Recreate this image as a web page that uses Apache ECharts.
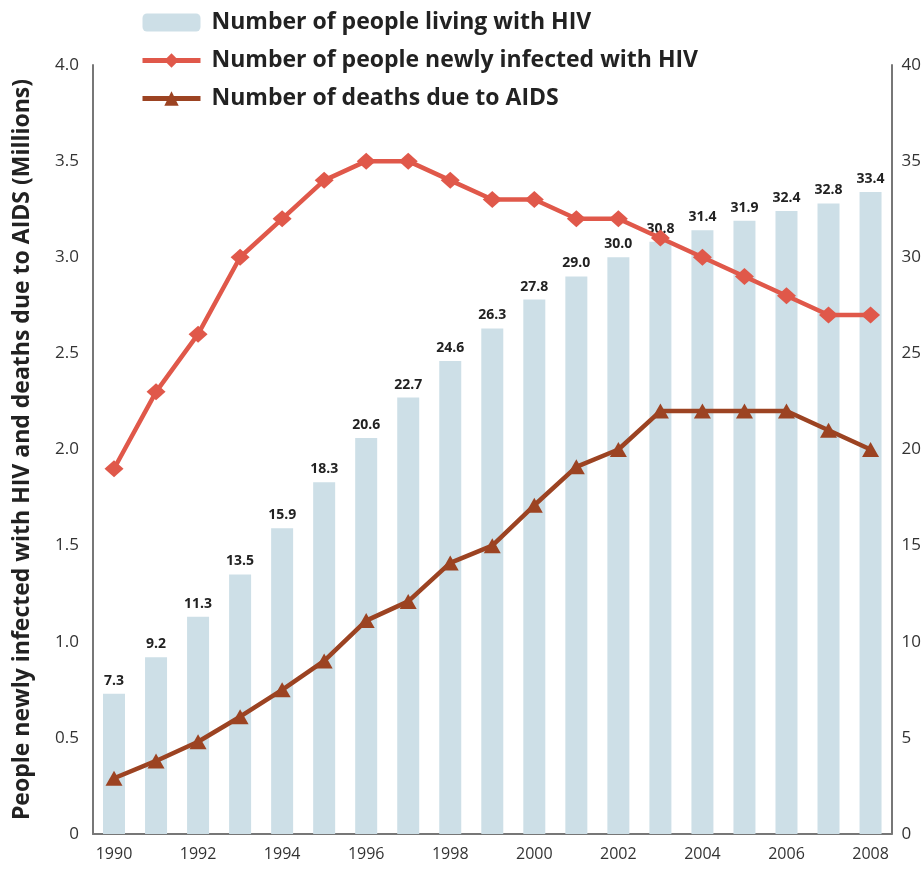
<!DOCTYPE html>
<html>
<head>
<meta charset="utf-8">
<script src="https://cdn.jsdelivr.net/npm/echarts@6/dist/echarts.min.js"></script>
<style>
html, body { margin: 0; padding: 0; background: #fff; }
#chart { width: 924px; height: 879px; }
</style>
</head>
<body>
<div id="chart"></div>
<script>
var years = ['1990','1991','1992','1993','1994','1995','1996','1997','1998','1999',
             '2000','2001','2002','2003','2004','2005','2006','2007','2008'];

// millions, right axis
var livingWithHiv = [7.3, 9.2, 11.3, 13.5, 15.9, 18.3, 20.6, 22.7, 24.6, 26.3,
                     27.8, 29.0, 30.0, 30.8, 31.4, 31.9, 32.4, 32.8, 33.4];

// millions, left axis
var newlyInfected = [1.9, 2.3, 2.6, 3.0, 3.2, 3.4, 3.5, 3.5, 3.4, 3.3,
                     3.3, 3.2, 3.2, 3.1, 3.0, 2.9, 2.8, 2.7, 2.7];

var aidsDeaths = [0.29, 0.38, 0.48, 0.61, 0.75, 0.9, 1.11, 1.21, 1.41, 1.5,
                  1.71, 1.91, 2.0, 2.2, 2.2, 2.2, 2.2, 2.1, 2.0];

var seriesNames = ['Number of people living with HIV',
                   'Number of people newly infected with HIV',
                   'Number of deaths due to AIDS'];

var axisFont = 'Open Sans';
var myChart = echarts.init(document.getElementById('chart'));

var option = {
    backgroundColor: '#fff',
    animation: false,
    legend: {
        orient: 'vertical',
        left: 135,
        top: 6,
        itemWidth: 58,
        itemHeight: 18,
        itemGap: 15,
        data: seriesNames,
        lineStyle: { width: 5 },
        textStyle: {
            fontFamily: axisFont,
            fontWeight: 'bold',
            fontSize: 23,
            color: '#222',
            padding: [0, 0, 0, 6]
        }
    },
    grid: {
        left: 93,
        right: 31,
        top: 65,
        bottom: 45
    },
    xAxis: {
        type: 'category',
        data: years,
        boundaryGap: true,
        axisLine: { lineStyle: { color: '#777', width: 2 } },
        axisTick: { show: false },
        axisLabel: {
            interval: 1,
            margin: 12,
            fontFamily: axisFont,
            fontSize: 16,
            color: '#333'
        }
    },
    yAxis: [
        {
            type: 'value',
            min: 0,
            max: 4,
            interval: 0.5,
            name: 'People newly infected with HIV and deaths due to AIDS (Millions)',
            nameLocation: 'middle',
            nameGap: 59,
            nameTextStyle: {
                fontFamily: axisFont,
                fontWeight: 'bold',
                fontSize: 23,
                color: '#222'
            },
            axisLine: { show: true, lineStyle: { color: '#777', width: 2 } },
            axisTick: { show: false },
            splitLine: { show: false },
            axisLabel: {
                margin: 14,
                fontFamily: axisFont,
                fontSize: 17,
                color: '#333',
                formatter: function(v){ return v === 0 ? '0' : v.toFixed(1); }
            }
        },
        {
            type: 'value',
            min: 0,
            max: 40,
            interval: 5,
            position: 'right',
            axisLine: { show: true, lineStyle: { color: '#777', width: 2 } },
            axisTick: { show: false },
            splitLine: { show: false },
            axisLabel: {
                margin: 10,
                fontFamily: axisFont,
                fontSize: 17,
                color: '#333'
            }
        }
    ],
    series: [
        {
            name: seriesNames[0],
            type: 'bar',
            yAxisIndex: 1,
            barWidth: 22,
            data: livingWithHiv,
            itemStyle: { color: '#cddfe7' },
            label: {
                show: true,
                position: 'top',
                distance: 6,
                fontFamily: axisFont,
                fontWeight: 'bold',
                fontSize: 14,
                color: '#222',
                formatter: function(p){ return p.value.toFixed(1); }
            },
            z: 1
        },
        {
            name: seriesNames[1],
            type: 'line',
            yAxisIndex: 0,
            data: newlyInfected,
            symbol: 'diamond',
            symbolSize: [19, 17],
            lineStyle: { color: '#e0584a', width: 4.5 },
            itemStyle: { color: '#e0584a' },
            z: 3
        },
        {
            name: seriesNames[2],
            type: 'line',
            yAxisIndex: 0,
            data: aidsDeaths,
            symbol: 'triangle',
            symbolSize: [17, 15],
            lineStyle: { color: '#9c4322', width: 4.5 },
            itemStyle: { color: '#9c4322' },
            z: 3
        }
    ]
};
myChart.setOption(option);
</script>
</body>
</html>
